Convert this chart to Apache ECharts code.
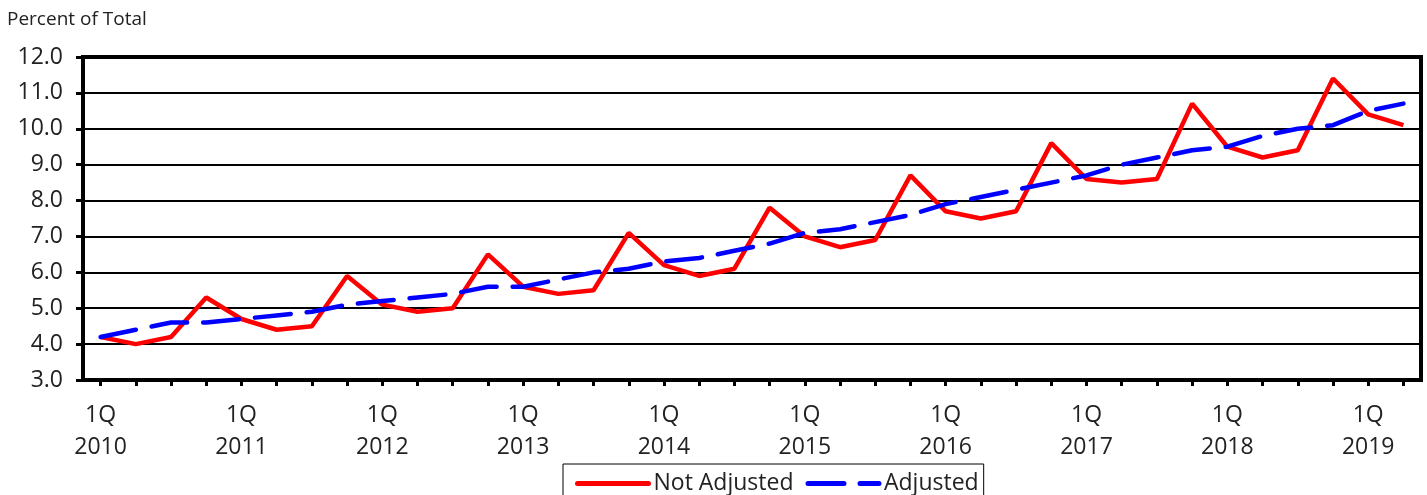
<!DOCTYPE html>
<html lang="en">
<head>
  <meta charset="UTF-8">
  <title>Percent of Total</title>
  <style>
    html, body { margin: 0; padding: 0; background: #fff; }
    #chart { width: 1427px; height: 495px; }
  </style>
</head>
<body>
  <div id="chart"></div>
  <script src="https://cdn.jsdelivr.net/npm/echarts@6/dist/echarts.min.js"></script>
  <script>
  // quarters, 1Q 2010 .. 2Q 2019
  var quarters = [
    '1Q 2010', '2Q 2010', '3Q 2010', '4Q 2010',
    '1Q 2011', '2Q 2011', '3Q 2011', '4Q 2011',
    '1Q 2012', '2Q 2012', '3Q 2012', '4Q 2012',
    '1Q 2013', '2Q 2013', '3Q 2013', '4Q 2013',
    '1Q 2014', '2Q 2014', '3Q 2014', '4Q 2014',
    '1Q 2015', '2Q 2015', '3Q 2015', '4Q 2015',
    '1Q 2016', '2Q 2016', '3Q 2016', '4Q 2016',
    '1Q 2017', '2Q 2017', '3Q 2017', '4Q 2017',
    '1Q 2018', '2Q 2018', '3Q 2018', '4Q 2018',
    '1Q 2019', '2Q 2019'
  ];

  var notAdjusted = [
    4.2, 4.0, 4.2, 5.3,
    4.7, 4.4, 4.5, 5.9,
    5.1, 4.9, 5.0, 6.5,
    5.6, 5.4, 5.5, 7.1,
    6.2, 5.9, 6.1, 7.8,
    7.0, 6.7, 6.9, 8.7,
    7.7, 7.5, 7.7, 9.6,
    8.6, 8.5, 8.6, 10.7,
    9.5, 9.2, 9.4, 11.4,
    10.4, 10.1
  ];

  var adjusted = [
    4.2, 4.4, 4.6, 4.6,
    4.7, 4.8, 4.9, 5.1,
    5.2, 5.3, 5.4, 5.6,
    5.6, 5.8, 6.0, 6.1,
    6.3, 6.4, 6.6, 6.8,
    7.1, 7.2, 7.4, 7.6,
    7.9, 8.1, 8.3, 8.5,
    8.7, 9.0, 9.2, 9.4,
    9.5, 9.8, 10.0, 10.1,
    10.5, 10.7
  ];

  var yMin = 3, yMax = 12, yStep = 1;
  var fontFam = '"Open Sans", "Liberation Sans", sans-serif';
  var dash = [36, 16];

  var myChart = echarts.init(document.getElementById('chart'));

  var option = {
    animation: false,
    backgroundColor: '#fff',
    title: {
      text: 'Percent of Total',
      left: 2,
      top: 5,
      textStyle: { fontFamily: fontFam, fontSize: 19, fontWeight: 'normal', color: '#222' }
    },
    grid: {
      left: 83, right: 6, top: 57, bottom: 115,
      show: true,
      borderColor: '#000',
      borderWidth: 4,
      backgroundColor: 'transparent'
    },
    legend: {
      left: 563,
      top: 464,
      padding: [8, 5, 20, 12],
      borderColor: '#000',
      borderWidth: 1,
      itemWidth: 71,
      itemHeight: 14,
      itemGap: 12,
      data: ['Not Adjusted', 'Adjusted'],
      itemStyle: { opacity: 0 },
      lineStyle: { width: 5, cap: 'round' },
      textStyle: { fontFamily: fontFam, fontSize: 23, color: '#222' }
    },
    xAxis: {
      type: 'category',
      data: quarters,
      boundaryGap: true,
      axisLine: { onZero: false, lineStyle: { color: '#000', width: 4 } },
      axisTick: { show: true, interval: 0, alignWithLabel: true, length: 6, lineStyle: { color: '#000', width: 3 } },
      axisLabel: {
        interval: 3,
        margin: 19,
        lineHeight: 32,
        fontFamily: fontFam,
        fontSize: 23,
        color: '#222',
        formatter: function (v) { return v.replace(' ', '\n'); }
      },
      splitLine: { show: false }
    },
    yAxis: {
      type: 'value',
      min: yMin,
      max: yMax,
      interval: yStep,
      axisLine: { show: true, lineStyle: { color: '#000', width: 4 } },
      axisTick: { show: true, length: 7, lineStyle: { color: '#000', width: 3 } },
      axisLabel: {
        margin: 20,
        fontFamily: fontFam,
        fontSize: 23,
        color: '#222',
        formatter: function (v) { return v.toFixed(1); }
      },
      splitLine: { show: true, lineStyle: { color: '#000', width: 2 } }
    },
    series: [
      {
        name: 'Not Adjusted',
        type: 'line',
        data: notAdjusted,
        symbol: 'none',
        lineStyle: { color: '#ff0000', width: 4.5 },
        itemStyle: { color: '#ff0000' },
        z: 3
      },
      {
        name: 'Adjusted',
        type: 'line',
        data: adjusted,
        symbol: 'none',
        lineStyle: { color: '#0000ff', width: 4.5, type: dash, cap: 'round' },
        itemStyle: { color: '#0000ff' },
        z: 4
      }
    ]
  };

  myChart.setOption(option);
  </script>
</body>
</html>
